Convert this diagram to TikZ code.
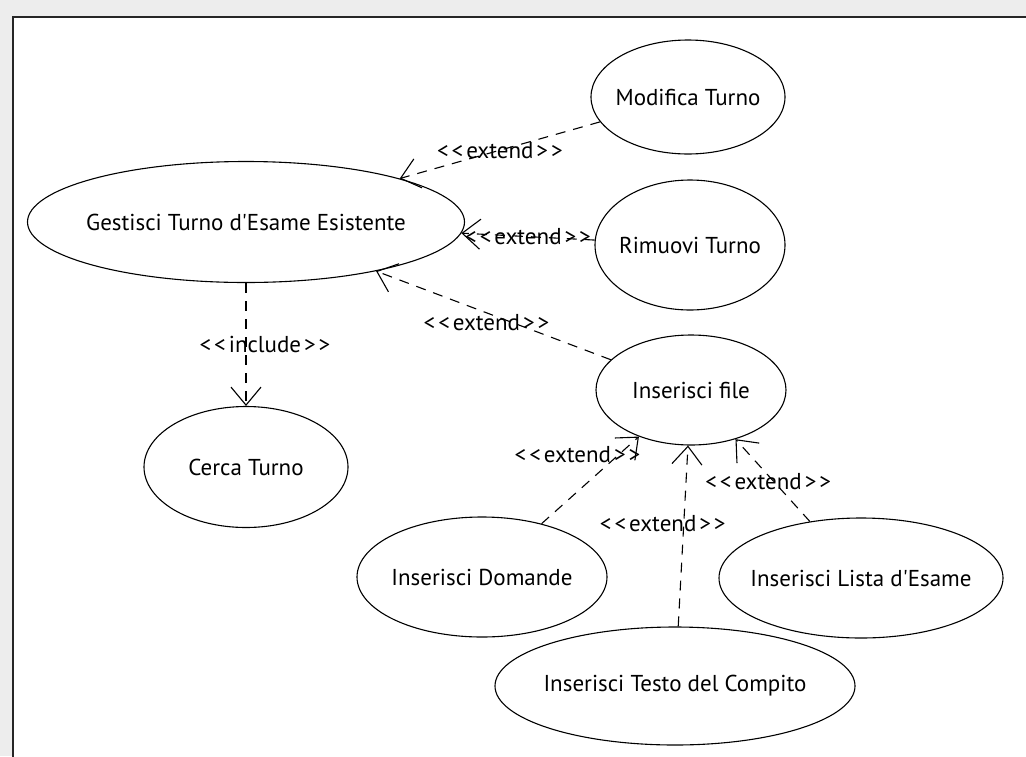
\documentclass[tikz,border=0pt]{standalone}
\usepackage{fontspec}
\setmainfont{PT Sans}[Ligatures=TeXOff]
\usetikzlibrary{shapes.geometric,arrows.meta}
\newcommand{\ster}[1]{<\kern3pt<\kern3pt#1\kern3pt>\kern3pt>}

\begin{document}
\begin{tikzpicture}[x=1pt,y=-1pt]
\tikzstyle{every node}=[font=\fontsize{23}{27}\selectfont]
\tikzstyle{usecase}=[ellipse,draw,line width=1.1pt,inner sep=0pt]
\tikzstyle{dep}=[draw,dash pattern=on 10pt off 8pt,line width=1.1pt,-{Straight Barb[length=18pt,width=30pt]}]
\tikzstyle{stereo}=[inner sep=0pt]
\useasboundingbox (0,0) rectangle (1026,756);
\fill[black!7] (0,0) rectangle (1026,756);
\draw[draw=black!85,fill=white,line width=2pt] (13,17) rectangle (1040,770);
% use cases
\node[usecase,minimum width=194pt,minimum height=114pt] (modifica) at (688,97) {\makebox[0pt]{Modifica Turno}};
\node[usecase,minimum width=437pt,minimum height=121pt] (gestisci) at (246,222) {\makebox[0pt]{Gestisci Turno d'Esame Esistente}};
\node[usecase,minimum width=190pt,minimum height=130pt] (rimuovi) at (690,245) {\makebox[0pt]{Rimuovi Turno}};
\node[usecase,minimum width=190pt,minimum height=110pt] (file) at (691,390) {\makebox[0pt]{Inserisci file}};
\node[usecase,minimum width=204pt,minimum height=121pt] (cerca) at (246,467) {\makebox[0pt]{Cerca Turno}};
\node[usecase,minimum width=250pt,minimum height=120pt] (domande) at (482,577) {\makebox[0pt]{Inserisci Domande}};
\node[usecase,minimum width=284pt,minimum height=120pt] (lista) at (861,578) {\makebox[0pt]{Inserisci Lista d'Esame}};
\node[usecase,minimum width=360pt,minimum height=118pt] (testo) at (675,686) {\makebox[0pt]{Inserisci Testo del Compito}};
% relations
\draw[dep] (modifica) -- node[stereo] (extmod) {\ster{extend}} (gestisci);
\draw[dep] (rimuovi) -- node[stereo] (extrim) {\ster{extend}} (gestisci);
\draw[dep] (file) -- node[stereo,xshift=-7pt,yshift=-7pt] (extfile) {\ster{extend}} (gestisci);
\draw[dep] (gestisci) -- node[stereo,xshift=19pt] (inccerca) {\ster{include}} (cerca);
\draw[dep] (domande) -- node[stereo,pos=0.79,xshift=-41pt] (extdom) {\ster{extend}} (file);
\draw[dep] (testo) -- node[stereo,pos=0.57,xshift=-21pt] (exttesto) {\ster{extend}} (file);
\draw[dep] (lista) -- node[stereo,pos=0.48,xshift=-6pt] (extlista) {\ster{extend}} (file);
\end{tikzpicture}
\end{document}
